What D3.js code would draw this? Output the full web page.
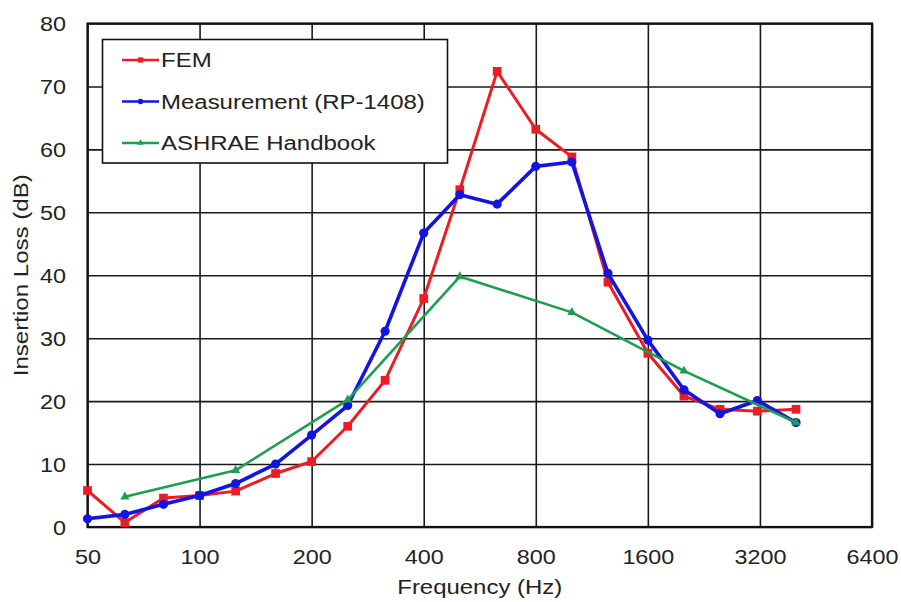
<!DOCTYPE html>
<html>
<head>
<meta charset="utf-8">
<script src="https://cdn.jsdelivr.net/npm/d3@7"></script>
<style>
  body { margin: 0; background: #fff; }
  svg { display: block; font-family: "Liberation Sans", Arial, sans-serif; }
</style>
</head>
<body>
<div id="chart"></div>
<script>
// third-octave band centres (Hz)
const freqs = [50, 63, 80, 100, 125, 160, 200, 250, 315, 400, 500, 630, 800, 1000, 1250, 1600, 2000, 2500, 3150, 4000];
const femValues = [5.8, 0.7, 4.6, 5.0, 5.7, 8.5, 10.4, 16.0, 23.3, 36.3, 53.6, 72.4, 63.2, 58.8, 38.9, 27.6, 20.8, 18.7, 18.4, 18.7];
const measValues = [1.3, 2.0, 3.6, 5.0, 6.9, 10.0, 14.6, 19.3, 31.1, 46.7, 52.8, 51.3, 57.3, 58.0, 40.3, 29.7, 21.8, 18.0, 20.1, 16.6];
// octave bands for the handbook curve
const ashraeFreqs = [63, 125, 250, 500, 1000, 2000, 4000];
const ashraeValues = [4.8, 9.0, 20.2, 39.8, 34.1, 24.8, 16.6];

const xTicks = [50, 100, 200, 400, 800, 1600, 3200, 6400];
const yTicks = [0, 10, 20, 30, 40, 50, 60, 70, 80];
const seriesNames = ["FEM", "Measurement (RP-1408)", "ASHRAE Handbook"];

const width = 901, height = 602;
const margin = { top: 23.5, right: 29, bottom: 75, left: 87.5 };
// the source picture is a bit stretched sideways, text included
const stretch = 1.14;

const svg = d3.select('#chart').append('svg')
    .attr('width', width)
    .attr('height', height);

const x = d3.scaleLog().base(2)
    .domain([50, 6400])
    .range([margin.left, width - margin.right]);

const y = d3.scaleLinear()
    .domain([0, 80])
    .range([height - margin.bottom, margin.top]);

// grid via axes
const gx = svg.append('g')
    .attr('transform', 'translate(0,' + y(0) + ')')
    .call(d3.axisBottom(x).tickValues(xTicks).tickFormat(d3.format('d'))
        .tickSizeInner(-(y(0) - y(80))).tickSizeOuter(0).tickPadding(22));
gx.select('.domain').remove();
gx.selectAll('line').attr('stroke', '#1a1a1a').attr('stroke-width', 1.6);
gx.selectAll('text').attr('fill', '#222').style('font-size', '20.5px')
    .attr('transform', 'scale(' + stretch + ',1)');

const gy = svg.append('g')
    .attr('transform', 'translate(' + x(50) + ',0)')
    .call(d3.axisLeft(y).tickValues(yTicks)
        .tickSizeInner(-(x(6400) - x(50))).tickSizeOuter(0));
gy.select('.domain').remove();
gy.selectAll('line').attr('stroke', '#1a1a1a').attr('stroke-width', 1.6);
gy.selectAll('text').attr('fill', '#222').style('font-size', '20.5px')
    .attr('x', -21.5 / stretch).attr('dy', '0.35em')
    .attr('transform', 'scale(' + stretch + ',1)');

// frame
svg.append('rect')
    .attr('x', x(50)).attr('y', y(80))
    .attr('width', x(6400) - x(50)).attr('height', y(0) - y(80))
    .attr('fill', 'none').attr('stroke', '#111').attr('stroke-width', 2.2);

// axis titles
svg.append('text')
    .attr('x', (x(50) + x(6400)) / 2).attr('y', 594)
    .attr('text-anchor', 'middle').attr('fill', '#222')
    .attr('textLength', 165).attr('lengthAdjust', 'spacingAndGlyphs')
    .style('font-size', '20px')
    .text('Frequency (Hz)');

svg.append('text')
    .attr('transform', 'translate(28,' + (y(0) + y(80)) / 2 + ') rotate(-90)')
    .attr('text-anchor', 'middle').attr('fill', '#222')
    .attr('textLength', 202).attr('lengthAdjust', 'spacingAndGlyphs')
    .style('font-size', '20px')
    .text('Insertion Loss (dB)');

const series = [
    { name: seriesNames[0], xs: freqs, ys: femValues, color: '#ec1c24', width: 3, marker: 'square' },
    { name: seriesNames[1], xs: freqs, ys: measValues, color: '#1414e0', width: 3.6, marker: 'circle' },
    { name: seriesNames[2], xs: ashraeFreqs, ys: ashraeValues, color: '#1e9e4e', width: 2.6, marker: 'triangle' }
];

const line = d3.line()
    .x(d => x(d[0]))
    .y(d => y(d[1]));

const symbolFor = m => m === 'square' ? d3.symbol(d3.symbolSquare, 76)
    : m === 'circle' ? d3.symbol(d3.symbolCircle, 66)
    : d3.symbol(d3.symbolTriangle, 36);

series.forEach(s => {
    const pts = s.xs.map((f, i) => [f, s.ys[i]]);
    svg.append('path')
        .attr('d', line(pts))
        .attr('fill', 'none')
        .attr('stroke', s.color)
        .attr('stroke-width', s.width)
        .attr('stroke-linejoin', 'round');
    svg.append('g').selectAll('path')
        .data(pts)
        .enter()
        .append('path')
        .attr('transform', d => 'translate(' + x(d[0]) + ',' + y(d[1]) + ')')
        .attr('d', symbolFor(s.marker)())
        .attr('fill', s.color);
});

// legend
const legend = svg.append('g');
legend.append('rect')
    .attr('x', 102.5).attr('y', 39.5)
    .attr('width', 345).attr('height', 123.5)
    .attr('fill', '#fff').attr('stroke', '#111').attr('stroke-width', 1.6);

series.forEach((s, i) => {
    const cy = 60 + i * 41.5;
    legend.append('line')
        .attr('x1', 122).attr('x2', 159)
        .attr('y1', cy).attr('y2', cy)
        .attr('stroke', s.color).attr('stroke-width', 2.4);
    legend.append('path')
        .attr('transform', 'translate(140.5,' + cy + ')')
        .attr('d', (s.marker === 'square' ? d3.symbol(d3.symbolSquare, 28)
            : s.marker === 'circle' ? d3.symbol(d3.symbolCircle, 24)
            : d3.symbol(d3.symbolTriangle, 18))())
        .attr('fill', s.color);
    legend.append('text')
        .attr('transform', 'translate(161,' + (cy + 7) + ') scale(1.23,1)')
        .attr('fill', '#222')
        .style('font-size', '19.5px')
        .text(s.name);
});
</script>
</body>
</html>
